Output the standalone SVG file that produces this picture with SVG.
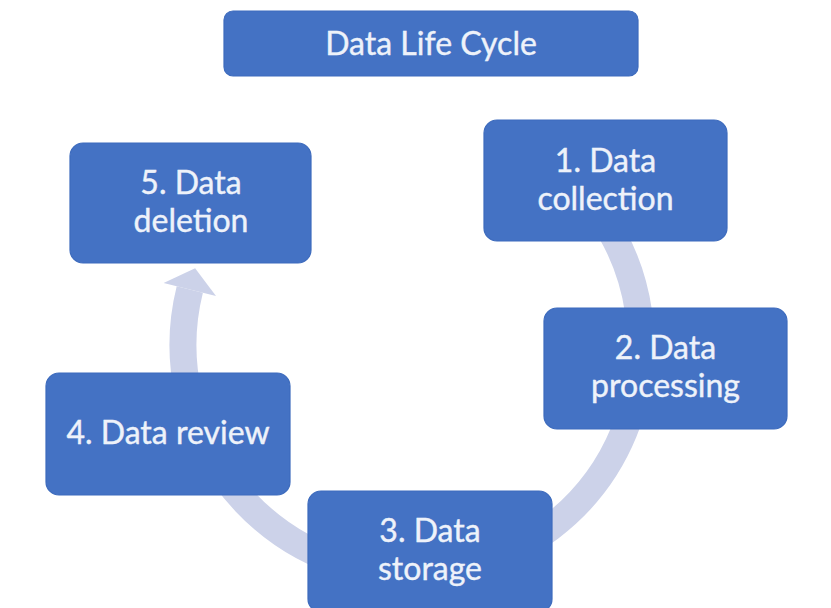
<svg xmlns="http://www.w3.org/2000/svg" width="831" height="608" viewBox="0 0 831 608">
  <style>
    .box { fill: #4472c4; stroke: #3d6bbd; stroke-width: 1.2; }
    .lbl { font-family: Lato, "Open Sans", "Liberation Sans", sans-serif; font-size: 32px; fill: #eef2fa; stroke: #eef2fa; stroke-width: 0.4; text-anchor: middle; }
    .arc { fill: none; stroke: #ccd2e9; stroke-width: 27; stroke-linecap: butt; }
    .head { fill: #ccd2e9; }
  </style>
  <rect width="831" height="608" fill="#ffffff"/>
  <g id="connectors">
    <path class="arc" d="M 599.6 213.7 A 229 229 0 1 1 189.8 289.6"/>
    <polygon class="head" points="163.6,283.1 216,296.1 195.1,268.3"/>
  </g>
  <g id="title">
    <rect class="box" x="224" y="11" width="414" height="65" rx="9"/>
    <text class="lbl" x="431" y="55">Data Life Cycle</text>
  </g>
  <g id="node1">
    <rect class="box" x="484" y="120" width="243" height="121" rx="13"/>
    <text class="lbl" x="605.5" y="172">1. Data</text>
    <text class="lbl" x="605.5" y="210">collection</text>
  </g>
  <g id="node2">
    <rect class="box" x="544" y="308" width="243" height="121" rx="13"/>
    <text class="lbl" x="665.5" y="359">2. Data</text>
    <text class="lbl" x="665.5" y="397">processing</text>
  </g>
  <g id="node3">
    <rect class="box" x="308" y="491" width="244" height="121" rx="13"/>
    <text class="lbl" x="430" y="542">3. Data</text>
    <text class="lbl" x="430" y="580">storage</text>
  </g>
  <g id="node4">
    <rect class="box" x="46" y="373" width="244" height="122" rx="13"/>
    <text class="lbl" x="168" y="444">4. Data review</text>
  </g>
  <g id="node5">
    <rect class="box" x="70" y="143" width="241" height="120" rx="13"/>
    <text class="lbl" x="191" y="194">5. Data</text>
    <text class="lbl" x="191" y="232">deletion</text>
  </g>
</svg>
